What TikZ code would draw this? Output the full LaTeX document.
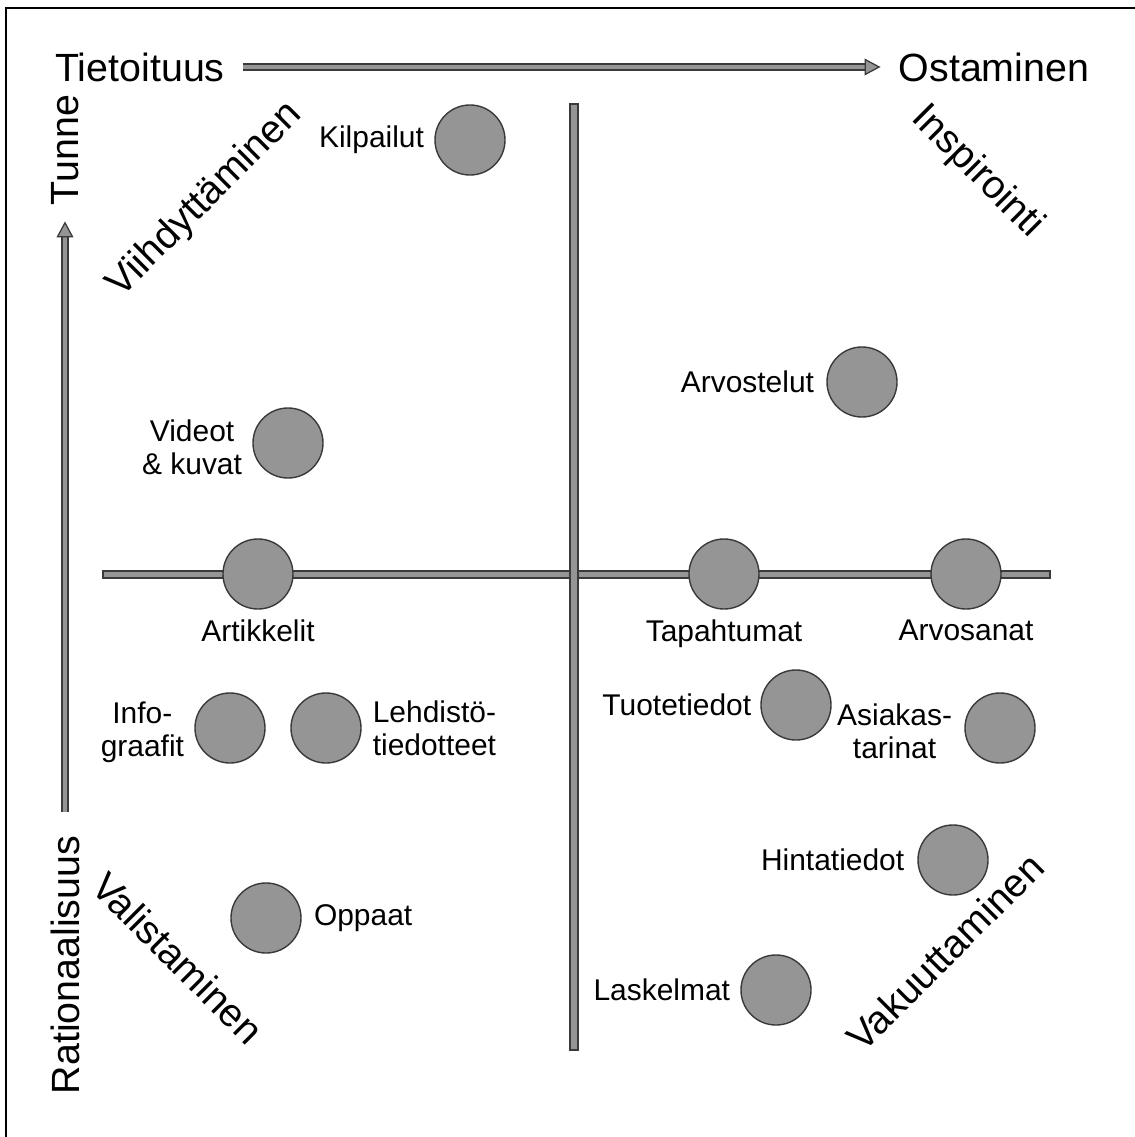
\documentclass[tikz,border=0pt]{standalone}
\usepackage{fontspec}
\setmainfont{Liberation Sans}
\usetikzlibrary{arrows.meta,positioning}
\definecolor{dotfill}{HTML}{959595}
\definecolor{edge}{HTML}{3A3A3A}
\tikzset{dot/.style={circle,draw=edge,fill=dotfill,line width=1pt,minimum size=1.75cm,inner sep=0pt},
  lbl/.style={inner sep=0pt,align=center,font=\fontsize{21.3}{23.5}\selectfont},
  big/.style={inner sep=0pt,font=\fontsize{28}{32}\selectfont},
  bar/.style={draw=edge,fill=dotfill,line width=0.9pt},
  axarr/.style={draw=edge,double=dotfill,double distance=3.2pt,line width=0.9pt,
    -{Triangle[open,fill=dotfill,length=4mm,width=4.2mm]}}}

\begin{document}
\begin{tikzpicture}[x=0.025cm,y=-0.025cm]
\useasboundingbox (0,0) rectangle (1135,1137);
\draw[line width=2pt] (1135,8) -- (6,8) -- (6,1137);
% axes
\node[big] (tieto) at (140,67) {Tietoituus};
\node[big] (osta) at (994,67) {Ostaminen};
\node[big,rotate=90] (tunne) at (65,150) {Tunne};
\node[big,rotate=90] (ratio) at (65,965) {Rationaalisuus};
\draw[axarr,shorten <=0.45cm,shorten >=0.45cm] (tieto) -- (osta);
\draw[axarr,shorten <=0.6cm,shorten >=0.4cm] (ratio) -- (tunne);
% quadrants
\node[big,rotate=45] (viihd) at (205,200) {Viihdyttäminen};
\node[big,rotate=-45] (inspi) at (977,172) {Inspirointi};
\node[big,rotate=-45] (valis) at (178,958) {Valistaminen};
\node[big,rotate=45] (vakuu) at (945,952) {Vakuuttaminen};
\draw[bar] (103,571) rectangle (1050,578);
\draw[bar] (570,104) rectangle (578,1050);
% content types
\node[dot] (kilp) at (470,140) {};
\node[lbl,left=0.25cm of kilp] {Kilpailut};
\node[dot] (arvost) at (862,382) {};
\node[lbl,left=0.3cm of arvost] {Arvostelut};
\node[dot] (video) at (288,443) {};
\node[lbl,left=0.25cm of video,yshift=-0.1cm] {Videot\\\& kuvat};
\node[dot] (artik) at (258,574) {};
\node[lbl,below=0.25cm of artik] {Artikkelit};
\node[dot] (tapah) at (724,574) {};
\node[lbl,below=0.25cm of tapah] {Tapahtumat};
\node[dot] (arvosa) at (966,574) {};
\node[lbl,below=0.25cm of arvosa] {Arvosanat};
\node[dot] (info) at (230,728) {};
\node[lbl,left=0.25cm of info,yshift=-0.1cm] {Info-\\graafit};
\node[dot] (lehd) at (326,728) {};
\node[lbl,right=0.27cm of lehd,align=left] {Lehdistö-\\tiedotteet};
\node[dot] (tuote) at (796,705) {};
\node[lbl,left=0.22cm of tuote] {Tuotetiedot};
\node[dot] (asiak) at (1000,728) {};
\node[lbl,left=0.3cm of asiak,yshift=-0.08cm] {Asiakas-\\tarinat};
\node[dot] (hinta) at (953,860) {};
\node[lbl,left=0.32cm of hinta] {Hintatiedot};
\node[dot] (oppa) at (266,918) {};
\node[lbl,right=0.3cm of oppa] {Oppaat};
\node[dot] (lask) at (776,990) {};
\node[lbl,left=0.25cm of lask] {Laskelmat};
\end{tikzpicture}
\end{document}
